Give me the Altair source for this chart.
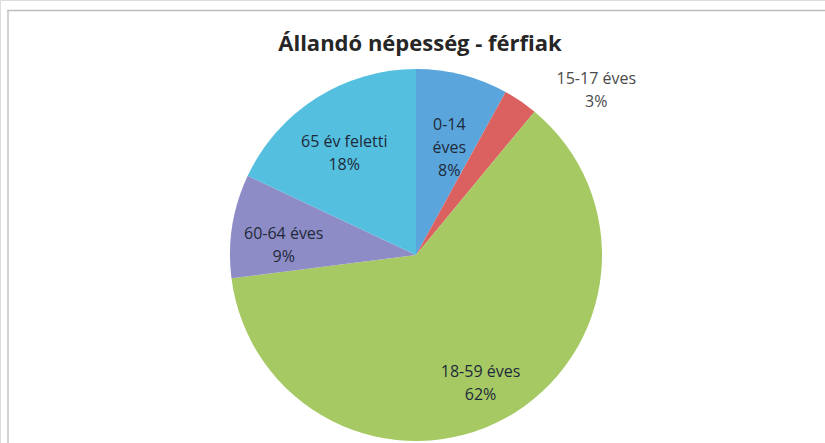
import math
import altair as alt
import pandas as pd

categories = ["0-14 éves", "15-17 éves", "18-59 éves", "60-64 éves", "65 év feletti"]
label_names = ["0-14\néves", "15-17 éves", "18-59 éves", "60-64 éves", "65 év feletti"]
values = [8, 3, 62, 9, 18]
colors = ["#5AA5DB", "#DA615F", "#A6C964", "#8E8CC7", "#55BFDF"]
title_text = "Állandó népesség - férfiak"

df = pd.DataFrame({
    "idx": list(range(len(categories))),
    "cat": categories,
    "name": label_names,
    "v": values,
})

CX, CY, R = 416, 255, 186
theta_scale = alt.Scale(domain=[0, 100], range=[0, 2 * math.pi])

base = (
    alt.Chart(df)
    .transform_joinaggregate(total="sum(v)")
    .transform_stack(stack="v", as_=["v0", "v1"], groupby=[], sort=[alt.SortField("idx", order="ascending")])
    .transform_calculate(
        mid="(datum.v0 + datum.v1) / 2",
        label="datum.name + '\\n' + format(datum.v / datum.total, '.0%')",
    )
)

pie = base.mark_arc(outerRadius=R, stroke=None).encode(
    theta=alt.Theta("v0:Q", scale=theta_scale),
    theta2="v1:Q",
    color=alt.Color("cat:N", scale=alt.Scale(domain=categories, range=colors), legend=None),
    x=alt.value(CX),
    y=alt.value(CY),
)

inside = base.transform_filter("datum.idx != 1").mark_text(
    radius=R * 0.72, font="Open Sans", fontSize=16, lineBreak="\n", lineHeight=23,
    align="center", baseline="middle", color="#1E2A3A",
).encode(
    theta=alt.Theta("mid:Q", scale=theta_scale),
    text="label:N",
    x=alt.value(CX),
    y=alt.value(CY),
)

outside = base.transform_filter("datum.idx == 1").mark_text(
    radius=230, dx=51, dy=14, font="Open Sans", fontSize=16, lineBreak="\n", lineHeight=23,
    align="center", baseline="middle", color="#4A4A4A",
).encode(
    theta=alt.Theta("mid:Q", scale=theta_scale),
    text="label:N",
    x=alt.value(CX),
    y=alt.value(CY),
)

one = alt.Data(values=[{"t": title_text}])
title = alt.Chart(one).mark_text(
    font="Open Sans", fontSize=22, fontWeight="bold", color="#262626",
    align="center", baseline="middle",
).encode(text="t:N", x=alt.value(420), y=alt.value(44))

top_rule = alt.Chart(one).mark_rule(color="#BDBDBD", strokeWidth=1.5).encode(
    x=alt.value(7), x2=alt.value(825), y=alt.value(10.5))
left_rule = alt.Chart(one).mark_rule(color="#C4C4C4", strokeWidth=1.5).encode(
    x=alt.value(8), y=alt.value(10), y2=alt.value(443))

chart = alt.layer(top_rule, left_rule, pie, inside, outside, title).properties(
    width=825, height=443, autosize=alt.AutoSizeParams(type="none"), padding=0,
).configure_view(stroke=None).configure(background="white")

chart.save("out.html", embed_options={"renderer": "svg", "actions": False})
